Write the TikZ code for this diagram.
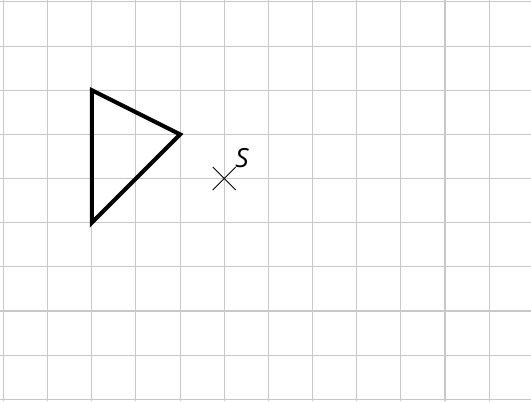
\documentclass[tikz,border=0pt]{standalone}
\usepackage{fontspec}
\setmainfont{Open Sans}
\usepackage{tikz}
\usetikzlibrary{positioning,calc}
\definecolor{gridgray}{RGB}{200,200,200}

\begin{document}
\begin{tikzpicture}[
  gridline/.style={gridgray, line width=0.7pt},
  outline/.style={black, line width=2.6pt, line join=miter},
  crossarm/.style={black, line width=0.6pt},
  pointlabel/.style={font=\fontsize{17}{19}\selectfont\itshape, inner sep=0pt}]
\useasboundingbox (-0.079,-0.039) rectangle (11.948,9.044);
\foreach \x in {0,...,11}
  \draw[gridline] (\x,-0.039) -- (\x,9.044);
\foreach \y in {0,...,9}
  \draw[gridline] (-0.079,\y) -- (11.948,\y);
\coordinate (a) at (2,7);
\coordinate (b) at (4,6);
\coordinate (c) at (2,4);
\draw[outline] (a) -- (b) -- (c) -- cycle;
\coordinate (s) at (5,5);
\draw[crossarm] ($(s)+(-0.26,0.26)$) -- ($(s)+(0.26,-0.26)$);
\draw[crossarm] ($(s)+(-0.26,-0.26)$) -- ($(s)+(0.26,0.26)$);
\node[pointlabel] (slabel) at (5.4,5.47) {S};
\end{tikzpicture}
\end{document}
